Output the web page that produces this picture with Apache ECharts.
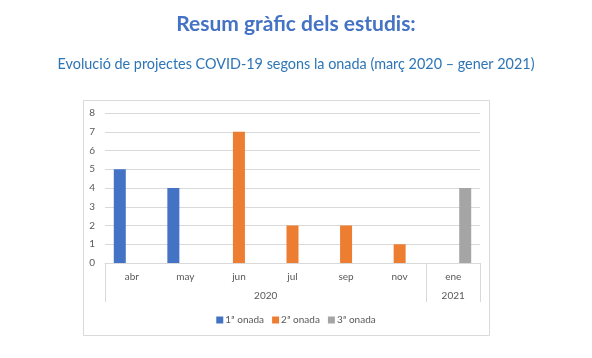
<!DOCTYPE html>
<html>
<head>
<meta charset="utf-8">
<script src="https://cdn.jsdelivr.net/npm/echarts@6/dist/echarts.min.js"></script>
<style>
html,body{margin:0;padding:0;background:#fff;}
#c{width:592px;height:358px;}
</style>
</head>
<body>
<div id="c"></div>
<script>
var months = ['abr','may','jun','jul','sep','nov','ene'];
var wave1 = [5, 4, '-', '-', '-', '-', '-'];
var wave2 = ['-', '-', 7, 2, 2, 1, '-'];
var wave3 = ['-', '-', '-', '-', '-', '-', 4];
var seriesNames = ['1ª onada', '2ª onada', '3ª onada'];
var years = ['2020', '2021'];
var yearCenters = [3, 6.5];
var yearBounds = [0, 6, 7];
var yTicks = [0, 1, 2, 3, 4, 5, 6, 7, 8];

var chart = echarts.init(document.getElementById('c'));
var txt = '#595959';
var line = '#D9D9D9';
var font = 'Lato, "Open Sans", sans-serif';
chart.setOption({
  animation: false,
  title: [
    {text: 'Resum gràfic dels estudis:', left: 'center', top: 9,
     textStyle: {fontFamily: font, fontSize: 21, fontWeight: 'bold', color: '#4472C4'}},
    {text: 'Evolució de projectes COVID-19 segons la onada (març 2020 – gener 2021)', left: 'center', top: 52,
     textStyle: {fontFamily: font, fontSize: 14.4, fontWeight: 'normal', color: '#2E75B6'}}
  ],
  graphic: [{type: 'rect', shape: {x: 83.5, y: 100.5, width: 406, height: 235},
    style: {fill: 'none', stroke: line, lineWidth: 1}, silent: true, z: -1}],
  legend: {
    data: seriesNames, bottom: 28, left: 'center', icon: 'rect', itemWidth: 7, itemHeight: 7, itemGap: 8,
    textStyle: {fontFamily: font, fontSize: 10, color: txt, padding: [0, 0, 0, -3]}
  },
  grid: {left: 105, right: 112, top: 113, bottom: 95},
  xAxis: [
    {type: 'category', data: months, axisLine: {lineStyle: {color: line}}, axisTick: {show: false},
     axisLabel: {fontFamily: font, fontSize: 10, color: txt, margin: 9}},
    {type: 'value', position: 'bottom', min: 0, max: 7, splitLine: {show: false},
     axisLine: {show: false},
     axisTick: {show: true, customValues: yearBounds, length: 39, lineStyle: {color: line}},
     axisLabel: {customValues: yearCenters, fontFamily: font, fontSize: 10, color: txt, margin: 28,
       formatter: function (v) { var i = yearCenters.indexOf(v); return i >= 0 ? years[i] : ''; }}}
  ],
  yAxis: {type: 'value', min: yTicks[0], max: yTicks[yTicks.length - 1], interval: 1,
    axisLine: {show: false}, axisTick: {show: false},
    splitLine: {lineStyle: {color: line}},
    axisLabel: {fontFamily: font, fontSize: 10, color: txt, margin: 10}},
  series: [
    {name: seriesNames[0], type: 'bar', data: wave1, barWidth: 12, barGap: '0%', itemStyle: {color: '#4472C4'}},
    {name: seriesNames[1], type: 'bar', data: wave2, barWidth: 12, barGap: '0%', itemStyle: {color: '#ED7D31'}},
    {name: seriesNames[2], type: 'bar', data: wave3, barWidth: 12, barGap: '0%', itemStyle: {color: '#A5A5A5'}}
  ]
});
</script>
</body>
</html>
